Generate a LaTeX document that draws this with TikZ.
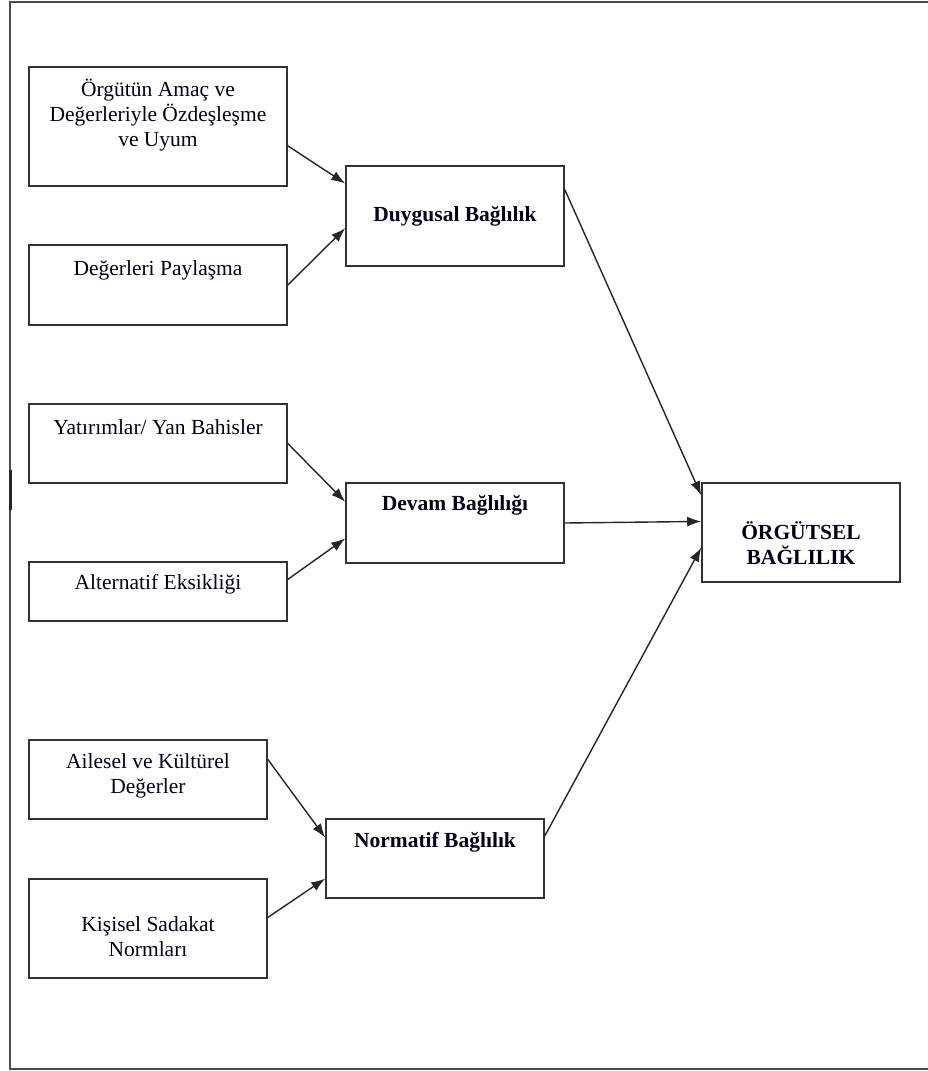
\documentclass[tikz,border=0pt]{standalone}
\usepackage{fontspec}
\setmainfont{Liberation Serif}
\usetikzlibrary{arrows.meta,calc}
\begin{document}
\begin{tikzpicture}[x=1pt,y=-1pt,
  box/.style={draw=black!80,line width=1.6pt,rectangle,inner sep=0pt},
  txt/.style={align=center,font=\fontsize{21.5}{25}\selectfont,text=black!90!blue,inner sep=0pt},
  btxt/.style={txt,font=\fontsize{21.5}{25}\selectfont\bfseries},
  conn/.style={draw=black!85,line width=1.4pt,-{Latex[length=14pt,width=10pt]}}]
\useasboundingbox (0,0) rectangle (928,1071);
\fill[white] (0,0) rectangle (928,1071);
% outer frame
\draw[black!70,line width=1.6pt] (930,2) -- (10,2) -- (10,1069) -- (930,1069);
\draw[black!85,line width=3pt] (10,470) -- (10,510);
% boxes
\node[box,minimum width=258pt,minimum height=119pt] (b1) at (158,126.5) {};
\node[box,minimum width=258pt,minimum height=80pt] (b2) at (158,285) {};
\node[box,minimum width=258pt,minimum height=79pt] (b3) at (158,443.5) {};
\node[box,minimum width=258pt,minimum height=59pt] (b4) at (158,591.5) {};
\node[box,minimum width=238pt,minimum height=79pt] (b5) at (148,779.5) {};
\node[box,minimum width=238pt,minimum height=99pt] (b6) at (148,928.5) {};
\node[box,minimum width=218pt,minimum height=100pt] (d) at (455,216) {};
\node[box,minimum width=218pt,minimum height=80pt] (v) at (455,523) {};
\node[box,minimum width=218pt,minimum height=79pt] (n) at (435,858.5) {};
\node[box,minimum width=198pt,minimum height=99pt] (o) at (801,532.5) {};
% texts
\node[txt] (t1) at (158,115) {Örgütün Amaç ve\\Değerleriyle Özdeşleşme\\ve Uyum};
\node[txt] (t2) at (158,270) {Değerleri Paylaşma};
\node[txt] (t3) at (158,427) {Yatırımlar/ Yan Bahisler};
\node[txt] (t4) at (158,584) {Alternatif Eksikliği};
\node[txt] (t5) at (148,776) {Ailesel ve Kültürel\\Değerler};
\node[txt] (t6) at (148,937) {Kişisel Sadakat\\Normları};
\node[btxt] (td) at (455,216) {Duygusal Bağlılık};
\node[btxt] (tv) at (455,505) {Devam Bağlılığı};
\node[btxt] (tn) at (435,842) {Normatif Bağlılık};
\node[btxt] (to) at (801,543) {ÖRGÜTSEL\\BAĞLILIK};
% connectors
\draw[conn] ($(b1.north east)!0.66!(b1.south east)$) -- ($(d.north west)!0.18!(d.south west)$);
\draw[conn] (b2.east) -- ($(d.north west)!0.62!(d.south west)$);
\draw[conn] (b3.east) -- ($(v.north west)!0.24!(v.south west)$);
\draw[conn] ($(b4.north east)!0.3!(b4.south east)$) -- ($(v.north west)!0.69!(v.south west)$);
\draw[conn] ($(b5.north east)!0.25!(b5.south east)$) -- ($(n.north west)!0.24!(n.south west)$);
\draw[conn] ($(b6.north east)!0.39!(b6.south east)$) -- ($(n.north west)!0.75!(n.south west)$);
\draw[conn] ($(d.north east)!0.24!(d.south east)$) -- ($(o.north west)!0.13!(o.south west)$);
\draw[conn] (v.east) -- ($(o.north west)!0.39!(o.south west)$);
\draw[conn] ($(n.north east)!0.22!(n.south east)$) -- ($(o.north west)!0.65!(o.south west)$);
\end{tikzpicture}
\end{document}
